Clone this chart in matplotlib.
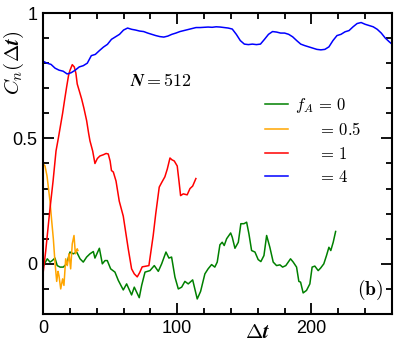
import matplotlib
matplotlib.use("Agg")
import matplotlib.pyplot as plt
from matplotlib.ticker import MultipleLocator, FixedLocator

plt.rcParams['mathtext.fontset'] = 'cm'

# f_A = 4 (blue)
t_blue = [0,3,6,9,12,15,18,21,24,27,30,33,36,39,42,45,48,51,54,57,60,63,66,69,72,75,78,81,84,87,90,93,96,99,102,105,108,111,114,117,120,123,126,129,132,135,138,141,144,147,150,153,156,159,162,165,168,171,174,177,180,183,186,189,192,195,198,201,204,207,210,213,216,219,222,225,228,231,234,237,240,243,246,249,252,255,258,260]
v_blue = [0.808,0.80,0.795,0.78,0.772,0.768,0.757,0.762,0.772,0.785,0.79,0.80,0.83,0.835,0.85,0.864,0.875,0.895,0.905,0.915,0.932,0.94,0.935,0.932,0.928,0.926,0.92,0.915,0.91,0.906,0.904,0.908,0.915,0.92,0.926,0.93,0.934,0.938,0.942,0.942,0.943,0.944,0.943,0.945,0.944,0.942,0.94,0.936,0.915,0.89,0.876,0.874,0.876,0.874,0.876,0.895,0.915,0.926,0.924,0.92,0.92,0.915,0.905,0.89,0.876,0.87,0.865,0.86,0.855,0.853,0.855,0.865,0.89,0.91,0.915,0.925,0.93,0.945,0.958,0.962,0.955,0.95,0.945,0.935,0.92,0.90,0.885,0.876]

# f_A = 1 (red)
t_red = [0,2,5,7.5,9.7,11.4,13,14.6,16,17.6,19,20,21.8,23.3,24.5,25.5,27,28.8,30.5,32.5,34,35,37,38.7,40.5,42.4,45,47,48.6,50,51,52.4,54.4,56.8,59.8,61.5,63.5,66,68,70.2,72,73.9,76,78.9,82.1,84,86.6,88.5,90.8,92.6,94.6,96,97.8,100,101.3,102.5,104.5,107.4,109.5,111.5,113.9]
v_red = [-0.04,0.05,0.21,0.33,0.45,0.50,0.55,0.60,0.65,0.705,0.75,0.77,0.794,0.785,0.76,0.717,0.69,0.657,0.62,0.571,0.52,0.49,0.45,0.40,0.42,0.43,0.435,0.44,0.438,0.41,0.372,0.366,0.33,0.25,0.19,0.13,0.06,-0.02,-0.04,-0.052,-0.035,-0.012,-0.01,-0.007,0.113,0.20,0.306,0.325,0.347,0.378,0.422,0.415,0.41,0.39,0.33,0.272,0.279,0.275,0.30,0.31,0.34]

# f_A = 0.5 (orange)
t_orange = [0,1.5,3,5.2,6.5,7.7,8.9,10.2,11.2,11.9,13.2,14.6,15.6,16.9,18.1,19.4,20.6,21.8,23.1,24.1,25.5,26]
v_orange = [0.40,0.39,0.35,0.25,0.17,0.10,0.008,-0.07,-0.03,-0.047,-0.10,-0.06,-0.086,0.02,-0.007,0.04,-0.02,0.08,0.113,0.04,0.06,0.053]

# f_A = 0 (green)
t_green = [0,3.2,5.2,6.9,8.9,10.6,12.7,15.1,17.6,20.1,22.6,25.1,27.6,30,32.5,35,37.5,38.7,42,44.2,46.2,47.9,50.4,53.6,56.1,59.8,62.3,66,68,71.7,73.5,76,79.7,82.9,85.9,88.4,91.6,93.8,95.8,98.3,100.8,103.3,105.7,108.2,111.5,114.9,117.4,120.6,123,125.6,128,129.8,131.8,133.5,135,136.8,139.8,141,143,145.5,147.4,149.7,151.7,153.4,155.4,157.9,160.3,162.3,164.6,166.6,169,171.5,174,176.5,178.5,180.9,184.4,186.4,188.9,190.6,191.9,193.8,196.3,198.8,200.5,202.5,205,206.8,209.2,211.2,213,214.4,216.2,218]
v_green = [-0.01,0.02,0.007,0.013,0.023,-0.007,-0.013,-0.013,0.0,0.047,0.04,0.047,0.02,0.007,0.027,0.04,0.049,0.023,0.062,0.0,0.013,0.013,-0.02,-0.033,-0.066,-0.104,-0.08,-0.124,-0.093,-0.135,-0.086,-0.033,-0.027,-0.007,-0.03,0.0,0.047,0.023,0.027,-0.053,-0.10,-0.093,-0.07,-0.08,-0.064,-0.14,-0.11,-0.04,-0.02,-0.003,-0.013,0.007,0.076,0.086,0.073,0.10,0.123,0.106,0.062,0.086,0.16,0.16,0.166,0.12,0.053,0.047,0.017,0.009,0.033,0.113,0.066,0.007,-0.007,-0.004,-0.013,-0.007,0.02,0.007,-0.013,-0.07,-0.073,-0.116,-0.106,-0.08,-0.013,-0.009,-0.027,-0.017,0.0,0.033,0.066,0.053,0.086,0.129]

labels = [r"$f_A\, = \,0$", r"$\quad\;\; = \,0.5$", r"$\quad\;\; = \,1$", r"$\quad\;\; = \,4$"]

fig = plt.figure(figsize=(4.02, 3.45), dpi=100)
ax = fig.add_axes([43/402, 1 - 314/345, (392-43)/402, (314-13)/345])

lw = 1.1
l0, = ax.plot(t_green, v_green, color='#008000', lw=lw)
l1, = ax.plot(t_orange, v_orange, color='#FFA500', lw=lw)
l2, = ax.plot(t_red, v_red, color='#FF0000', lw=lw)
l3, = ax.plot(t_blue, v_blue, color='#0000FF', lw=lw)

ax.set_xlim(0, 260)
ax.set_ylim(-0.2, 1.0)
ax.xaxis.set_major_locator(FixedLocator([0, 100, 200]))
ax.xaxis.set_minor_locator(MultipleLocator(20))
ax.yaxis.set_major_locator(FixedLocator([0, 0.5, 1]))
ax.yaxis.set_minor_locator(MultipleLocator(0.1))
ax.set_xticklabels(["0", "100", "200"])
ax.set_yticklabels(["0", "0.5", "1"])
ax.tick_params(which='both', direction='in', top=True, right=True, width=1.3)
ax.tick_params(which='major', length=8, labelsize=13, pad=4)
ax.tick_params(which='minor', length=4.5)
for lab in ax.get_xticklabels() + ax.get_yticklabels():
    lab.set_family('Liberation Sans')
for s in ax.spines.values():
    s.set_linewidth(1.5)

ax.set_ylabel(r"$\boldsymbol{C_n(\Delta t)}$", fontsize=15)
ax.yaxis.set_label_coords(-0.05, 0.834)
ax.set_xlabel(r"$\boldsymbol{\Delta t}$", fontsize=15)
ax.xaxis.set_label_coords(0.615, -0.025)

ax.text(0.25, 0.775, r"$\boldsymbol{N = 512}$", transform=ax.transAxes, fontsize=13, va='center', ha='left')
ax.text(0.9, 0.08, r"$\mathbf{(b)}$", transform=ax.transAxes, fontsize=14, va='center', ha='left')

leg = ax.legend([l0, l1, l2, l3], labels, loc='upper left', bbox_to_anchor=(0.612, 0.751),
                frameon=False, fontsize=12, handlelength=1.4, handletextpad=0.42,
                labelspacing=0.34, borderpad=0)

fig.savefig("out.png", dpi=100)
